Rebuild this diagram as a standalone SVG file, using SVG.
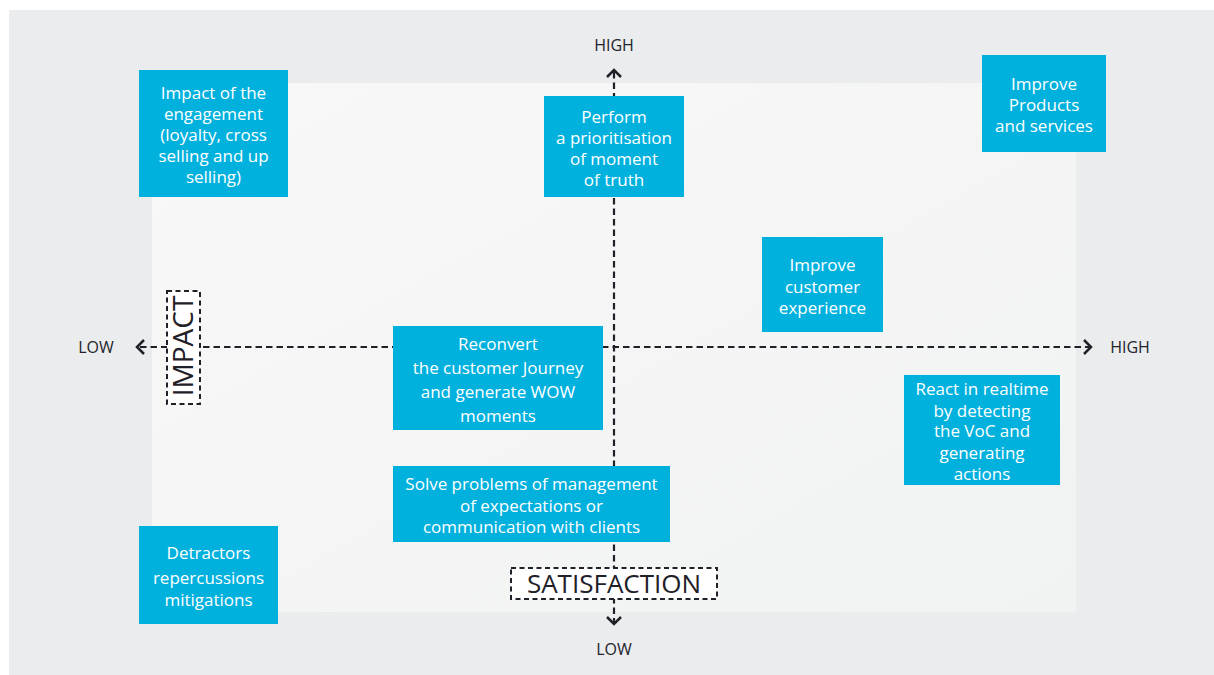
<svg xmlns="http://www.w3.org/2000/svg" width="1214" height="675" viewBox="0 0 1214 675">
<defs>
<linearGradient id="inner" x1="0" y1="0" x2="1" y2="1">
<stop offset="0" stop-color="#f8f8f8"/>
<stop offset="1" stop-color="#f1f2f2"/>
</linearGradient>
<style>
.box{fill:#00b1de}
.bt{fill:#ffffff;font-family:"Open Sans","Liberation Sans",sans-serif;font-size:17px;text-anchor:middle}
.lab{fill:#22232b;font-family:"Open Sans","Liberation Sans",sans-serif;font-size:16px;text-anchor:middle}
.axis{stroke:#1f2028;stroke-width:2.2;stroke-dasharray:6.5 4;fill:none}
.head{stroke:#1f2028;stroke-width:2.5;fill:none;stroke-linecap:butt}
.tag{fill:#ffffff;stroke:#1f2028;stroke-width:2;stroke-dasharray:5 3.5}
.tagt{fill:#1f2028;font-family:"Open Sans","Liberation Sans",sans-serif;text-anchor:middle}
</style>
</defs>
<rect x="9" y="10" width="1205" height="665" fill="#ebeced"/>
<rect x="152" y="83" width="924" height="529" fill="url(#inner)"/>

<g id="connectors">
<line class="axis" x1="140" y1="347" x2="1089" y2="347"/>
<line class="axis" x1="614" y1="72" x2="614" y2="622"/>
<polyline class="head" points="144,340 137,347 144,354"/>
<polyline class="head" points="1084,340 1091,347 1084,354"/>
<polyline class="head" points="607,77 614,70 621,77"/>
<polyline class="head" points="607,617 614,624 621,617"/>
</g>

<g id="axis-labels">
<text class="lab" x="614" y="50.5">HIGH</text>
<text class="lab" x="96" y="352.5">LOW</text>
<text class="lab" x="1130" y="352.5">HIGH</text>
<text class="lab" x="614" y="654.5">LOW</text>
</g>

<g id="impact-tag">
<rect class="tag" x="167" y="291" width="33" height="113"/>
<text class="tagt" font-size="28" transform="translate(193,346) rotate(-90)">IMPACT</text>
</g>

<g id="satisfaction-tag">
<rect class="tag" x="511" y="568" width="206" height="31"/>
<text class="tagt" font-size="26" x="614" y="592.5">SATISFACTION</text>
</g>

<g id="n1">
<rect class="box" x="139" y="70" width="149" height="127"/>
<text class="bt"><tspan x="213.5" y="99">Impact of the</tspan><tspan x="213.5" y="120">engagement</tspan><tspan x="213.5" y="141">(loyalty, cross</tspan><tspan x="213.5" y="162">selling and up</tspan><tspan x="213.5" y="183">selling)</tspan></text>
</g>

<g id="n2">
<rect class="box" x="544" y="96" width="140" height="101"/>
<text class="bt"><tspan x="614" y="123">Perform</tspan><tspan x="614" y="144">a prioritisation</tspan><tspan x="614" y="165">of moment</tspan><tspan x="614" y="186">of truth</tspan></text>
</g>

<g id="n3">
<rect class="box" x="982" y="55" width="124" height="97"/>
<text class="bt"><tspan x="1044" y="89.5">Improve</tspan><tspan x="1044" y="111">Products</tspan><tspan x="1044" y="132">and services</tspan></text>
</g>

<g id="n4">
<rect class="box" x="762" y="237" width="121" height="95"/>
<text class="bt"><tspan x="822.5" y="271">Improve</tspan><tspan x="822.5" y="292.5">customer</tspan><tspan x="822.5" y="313.5">experience</tspan></text>
</g>

<g id="n5">
<rect class="box" x="393" y="326" width="210" height="104"/>
<text class="bt"><tspan x="498" y="350">Reconvert</tspan><tspan x="498" y="374">the customer Journey</tspan><tspan x="498" y="397.5">and generate WOW</tspan><tspan x="498" y="421.5">moments</tspan></text>
</g>

<g id="n6">
<rect class="box" x="393" y="466" width="277" height="76"/>
<text class="bt"><tspan x="531.5" y="490">Solve problems of management</tspan><tspan x="531.5" y="511.5">of expectations or</tspan><tspan x="531.5" y="533">communication with clients</tspan></text>
</g>

<g id="n7">
<rect class="box" x="904" y="375" width="156" height="110"/>
<text class="bt"><tspan x="982" y="395">React in realtime</tspan><tspan x="982" y="416.5">by detecting</tspan><tspan x="982" y="437">the VoC and</tspan><tspan x="982" y="458.5">generating</tspan><tspan x="982" y="480">actions</tspan></text>
</g>

<g id="n8">
<rect class="box" x="139" y="526" width="139" height="98"/>
<text class="bt"><tspan x="208.5" y="559">Detractors</tspan><tspan x="208.5" y="583.5">repercussions</tspan><tspan x="208.5" y="606">mitigations</tspan></text>
</g>
</svg>
